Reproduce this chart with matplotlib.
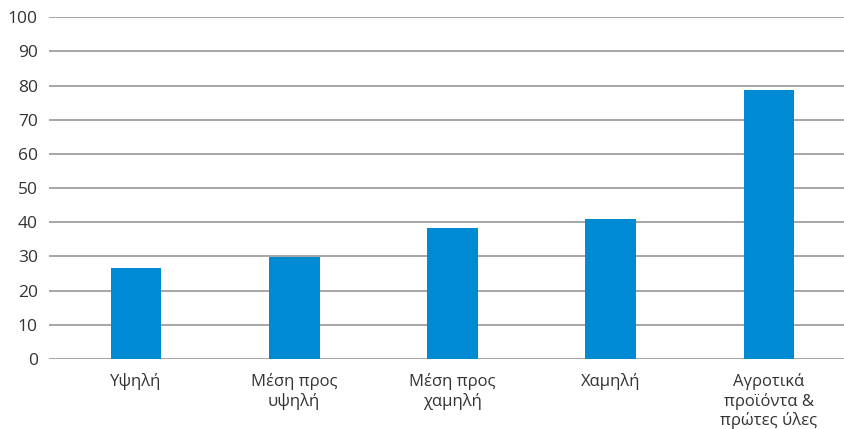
import matplotlib.pyplot as plt
import numpy as np

# 数据
categories = ["Υψηλή", "Μέση προς\nυψηλή", "Μέση προς\nχαμηλή", "Χαμηλή",
              "Αγροτικά\nπροϊόντα &\nπρώτες ύλες"]
values = [26.6, 29.8, 38.3, 40.9, 78.7]

plt.rcParams['font.family'] = ['Open Sans', 'DejaVu Sans']

fig = plt.figure(figsize=(8.44, 4.29), dpi=100)
ax = fig.add_axes([0.058, 0.163, 0.942, 0.797])

x = np.arange(len(categories))
ax.bar(x, values, width=0.32, color='#008ad3', zorder=3)

ax.set_xlim(-0.55, len(categories) - 0.526)
ax.set_ylim(0, 100)
ax.set_yticks(np.arange(0, 101, 10))
ax.set_xticks(x)
ax.set_xticklabels(categories, fontsize=12, color='#333333', linespacing=1.2, va='top')
ax.tick_params(axis='y', labelsize=12.5, labelcolor='#333333', length=0, pad=8)
ax.tick_params(axis='x', length=0, pad=10)

ax.grid(axis='y', color='#a6a6a6', linewidth=1.4, zorder=0)
for s in ax.spines.values():
    s.set_visible(False)

plt.savefig("out.png", dpi=100)
